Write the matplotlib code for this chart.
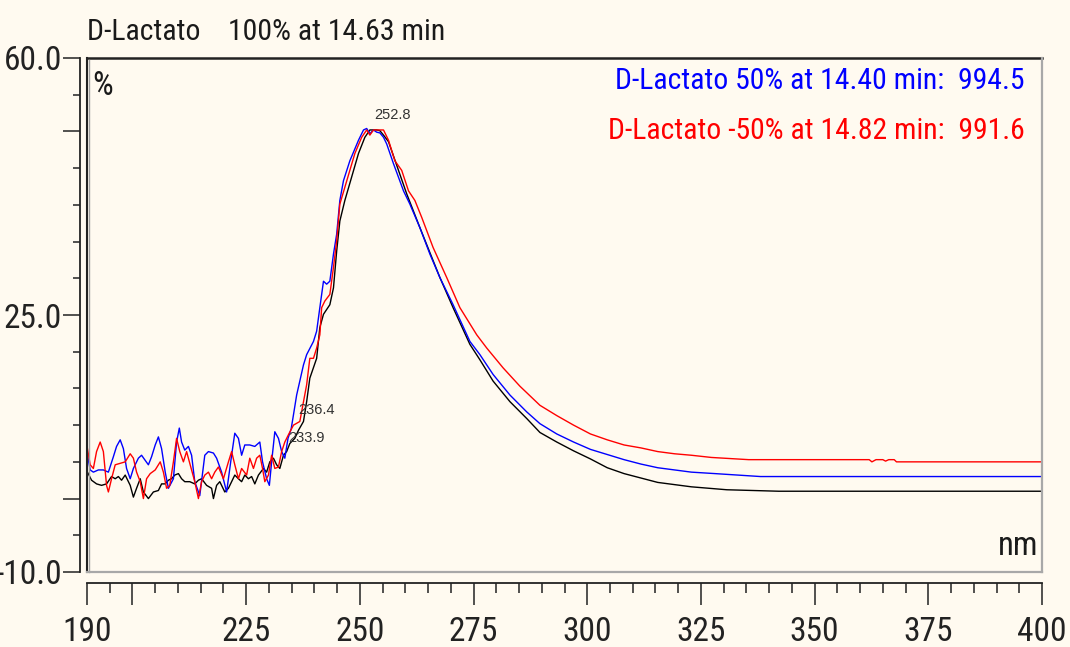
import matplotlib
matplotlib.use("Agg")
import matplotlib.pyplot as plt
from matplotlib import font_manager
from matplotlib.font_manager import FontProperties
from matplotlib.textpath import TextPath
from matplotlib.ticker import MultipleLocator, FixedLocator, FixedFormatter

############################ DATOS ############################################

# D-Lactato 100% (negro)
wl_100 = [190.1, 191.0, 192.1, 193.2, 194.3, 195.4, 196.2, 196.9, 197.6, 198.4,
          199.5, 200.2, 200.9, 201.7, 202.4, 203.5, 204.6, 205.7, 206.4, 207.2,
          207.9, 208.6, 209.3, 210.1, 210.8, 211.5, 212.6, 213.7, 214.5, 215.2,
          216.3, 217.4, 217.8, 218.5, 219.2, 220.3, 221.1, 221.8, 222.5, 223.3,
          224.0, 224.7, 225.5, 226.2, 226.9, 227.7, 228.8, 229.5, 230.2, 231.0,
          231.7, 232.4, 233.2, 233.9, 234.6, 235.7, 236.5, 237.6, 238.3, 239.0,
          240.5, 241.2, 242.0, 243.4, 244.2, 244.9, 245.6, 246.7, 248.2, 249.7,
          251.1, 252.2, 253.7, 254.4, 255.2, 256.3, 258.1, 260.3, 263.2, 267.6,
          270.5, 274.2, 276.4, 279.3, 283.0, 286.7, 289.6, 293.3, 297.0, 300.7,
          304.4, 308.1, 311.8, 315.5, 319.2, 322.9, 330.7, 342.1, 400.0]
pct_100 = [3.6, 2.5, 2.0, 1.8, 2.0, 3.0, 2.7, 3.0, 2.5, 3.2,
           1.8, 0.2, 1.4, 2.7, 0.9, 0.0, 0.9, 1.1, 2.0, 2.0,
           2.5, 2.7, 3.2, 3.4, 2.7, 2.3, 2.3, 2.0, 2.5, 2.7,
           1.8, 1.4, 0.0, 1.8, 2.3, 0.9, 1.4, 2.3, 3.2, 2.7,
           2.3, 3.2, 2.7, 3.0, 2.0, 3.2, 4.1, 3.6, 5.0, 5.5,
           4.6, 4.1, 5.9, 6.4, 7.5, 8.2, 9.3, 10.5, 13.2, 16.4,
           19.1, 23.3, 25.1, 26.4, 28.7, 33.7, 37.8, 40.6, 43.8, 47.0,
           49.2, 50.2, 50.2, 50.1, 49.5, 48.6, 45.4, 41.5, 36.9, 30.1,
           26.0, 21.0, 18.9, 16.0, 13.2, 10.9, 9.0, 7.7, 6.5, 5.4,
           4.2, 3.4, 2.8, 2.2, 1.9, 1.6, 1.2, 1.0, 1.0]

# D-Lactato 50% (azul)
wl_50 = [190.1, 190.7, 191.4, 192.5, 193.6, 194.7, 195.8, 196.5, 197.3, 198.0,
         198.7, 199.5, 200.2, 201.3, 202.0, 202.8, 203.5, 204.2, 205.0, 205.7,
         206.4, 207.2, 207.9, 209.0, 209.7, 210.3, 210.8, 211.5, 212.3, 213.0,
         213.7, 214.8, 215.9, 216.7, 217.8, 218.5, 219.6, 220.7, 221.8, 222.5,
         223.3, 224.0, 224.7, 225.8, 226.9, 228.0, 228.6, 229.5, 230.1, 230.6,
         231.3, 232.1, 232.8, 233.5, 234.2, 234.9, 235.4, 236.1, 237.6, 238.3,
         239.8, 240.5, 241.2, 242.0, 242.7, 243.4, 244.2, 244.9, 245.6, 246.4,
         247.8, 249.7, 250.8, 251.5, 252.2, 253.0, 253.7, 254.4, 255.2, 255.9,
         257.4, 259.6, 261.0, 263.2, 265.4, 267.6, 270.5, 274.2, 276.4, 279.3,
         283.0, 286.7, 289.6, 293.3, 297.0, 300.7, 304.4, 308.1, 311.8, 315.5,
         319.2, 322.9, 328.1, 338.1, 400.0]
pct_50 = [5.9, 3.9, 3.6, 3.9, 3.9, 3.6, 5.7, 7.1, 8.0, 6.8,
          4.1, 2.7, 4.1, 5.5, 5.9, 5.2, 4.6, 5.7, 7.3, 8.4,
          6.8, 3.6, 1.4, 2.7, 7.7, 9.6, 7.7, 6.6, 7.1, 5.9,
          2.3, 0.4, 5.9, 6.4, 6.2, 5.5, 3.6, 0.9, 5.9, 8.9,
          8.2, 5.9, 7.3, 7.3, 7.1, 7.7, 5.0, 2.7, 1.8, 5.0,
          9.1, 8.2, 6.4, 5.5, 8.2, 9.5, 11.4, 14.1, 18.2, 19.6,
          21.4, 22.8, 26.0, 29.6, 29.2, 29.6, 33.3, 36.0, 40.6, 43.3,
          46.0, 48.8, 50.2, 50.4, 49.7, 50.2, 49.9, 49.8, 49.2, 48.3,
          45.6, 41.9, 40.1, 36.9, 33.3, 30.1, 26.4, 21.4, 19.6, 16.9,
          14.1, 11.8, 10.2, 8.8, 7.7, 6.7, 6.0, 5.3, 4.7, 4.2,
          3.9, 3.6, 3.4, 3.0, 3.0]

# D-Lactato -50% (rojo)
wl_m50 = [190.1, 190.7, 191.4, 192.1, 192.9, 193.6, 194.3, 194.7, 195.4, 196.2,
          197.3, 198.4, 199.5, 200.2, 200.9, 201.7, 202.4, 203.1, 203.9, 205.0,
          206.1, 206.8, 207.5, 208.2, 209.0, 209.7, 210.4, 211.2, 211.9, 212.6,
          213.7, 214.5, 215.2, 215.9, 216.7, 217.4, 218.1, 218.9, 220.0, 221.1,
          221.8, 222.5, 223.3, 224.0, 225.1, 225.8, 226.6, 227.3, 228.0, 228.6,
          229.1, 229.9, 230.6, 231.3, 232.1, 232.8, 233.5, 234.3, 235.4, 236.8,
          238.3, 239.0, 239.8, 240.5, 241.2, 241.6, 242.3, 243.4, 244.2, 244.9,
          245.6, 246.7, 247.8, 248.9, 250.4, 251.5, 252.2, 253.0, 255.2, 256.3,
          257.7, 259.2, 260.7, 262.1, 263.6, 266.1, 269.1, 272.0, 275.7, 277.9,
          281.5, 285.2, 289.6, 293.3, 297.0, 300.7, 304.4, 308.1, 311.8, 315.5,
          319.2, 322.9, 327.3, 335.5, 362.0, 362.6, 363.5, 365.0, 365.6, 366.3,
          367.5, 368.0, 400.0]
pct_m50 = [6.8, 4.6, 4.1, 6.4, 7.7, 6.4, 1.8, 0.9, 2.7, 4.6,
           4.8, 5.0, 6.1, 5.5, 3.6, 2.3, 0.0, 2.7, 3.4, 3.9,
           5.0, 3.6, 1.4, 1.8, 5.0, 8.2, 6.4, 5.0, 6.4, 4.8,
           2.3, 0.0, 2.3, 3.2, 3.6, 2.7, 3.6, 4.3, 2.7, 5.0,
           6.4, 4.6, 2.7, 4.1, 3.2, 5.5, 4.1, 5.5, 5.9, 4.1,
           2.3, 3.2, 5.9, 4.1, 4.3, 6.4, 7.7, 8.7, 10.0, 10.5,
           15.5, 19.1, 19.1, 20.5, 22.3, 26.0, 26.9, 27.8, 31.5, 35.1,
           40.1, 42.4, 44.7, 47.0, 49.2, 50.2, 49.5, 50.2, 50.2, 48.8,
           46.0, 44.7, 41.9, 40.6, 38.3, 34.2, 30.1, 26.0, 22.3, 20.5,
           17.8, 15.3, 12.7, 11.3, 10.0, 8.8, 8.0, 7.3, 6.9, 6.4,
           6.1, 5.9, 5.6, 5.3, 5.3, 5.0, 5.3, 5.3, 5.1, 5.3,
           5.3, 5.0, 5.0]

# marcas de pico
picos = [252.8, 236.4, 233.9]
picos_y = [52.2, 12.1, 8.2]

xticks = [190, 200, 225, 250, 275, 300, 325, 350, 375, 400]
xtick_labels = ['190', '', '225', '250', '275', '300', '325', '350', '375', '400']
yticks = [-10, 0, 25, 50, 60]
ytick_labels = ['-10.0', '', '25.0', '', '60.0']

titulo = 'D-Lactato    100% at 14.63 min'
leyenda_azul = 'D-Lactato 50% at 14.40 min:  994.5'
leyenda_roja = 'D-Lactato -50% at 14.82 min:  991.6'

############################ FUENTE ###########################################

# se busca la fuente mas estrecha de las instaladas
familias_ok = {'Liberation Sans Narrow', 'Liberation Sans', 'Roboto', 'Roboto Condensed',
               'Open Sans', 'Open Sans Condensed', 'Lato', 'Inter', 'Noto Sans',
               'Noto Sans Display', 'DejaVu Sans'}
muestra = '0123456789 D-Lactato min'

def ancho(fp, s=10):
    return TextPath((0, 0), muestra, size=s, prop=fp).get_extents().width

mejor = FontProperties(family='DejaVu Sans')
mejor_ancho = ancho(mejor)
for f in font_manager.fontManager.ttflist:
    if f.name not in familias_ok or f.style != 'normal':
        continue
    if f.weight not in (400, 'normal', 'regular', 'book'):
        continue
    try:
        fp = FontProperties(fname=f.fname)
        w = ancho(fp)
    except Exception:
        continue
    if w < mejor_ancho:
        mejor, mejor_ancho = fp, w

def tam_para(texto, px):
    # tamaño en puntos para que el texto ocupe px pixeles de ancho
    w = TextPath((0, 0), texto, size=10, prop=mejor).get_extents().width
    return min(24, px / (w / 10 * 100 / 72))

t_leyenda = tam_para(leyenda_azul, 405)
t_titulo = tam_para(titulo, 354)
t_ticks = min(24, t_leyenda * 1.15)

def fuente(s):
    fp = mejor.copy()
    fp.set_size(s)
    return fp

############################ FIGURA ###########################################

fondo = '#fffaf0'
W, H = 1070, 647
fig = plt.figure(figsize=(W / 100, H / 100), dpi=100, facecolor=fondo)
ax = fig.add_axes([87 / W, (H - 572) / H, (1042 - 87) / W, (572 - 58) / H])
ax.set_facecolor(fondo)

ax.plot(wl_100, pct_100, color='black', lw=1.0)
ax.plot(wl_50, pct_50, color='#0000ff', lw=1.0)
ax.plot(wl_m50, pct_m50, color='#ff0000', lw=1.0)

ax.set_xlim(190, 400)
ax.set_ylim(-10, 60)

# ejes separados del marco
ax.spines['top'].set_visible(False)
ax.spines['right'].set_visible(False)
ax.spines['left'].set_position(('outward', 5))
ax.spines['bottom'].set_position(('outward', 8))
for s in ['left', 'bottom']:
    ax.spines[s].set_linewidth(1.3)
    ax.spines[s].set_color('#222222')

# marco
ax.plot([0, 1], [1, 1], transform=ax.transAxes, color='#222222', lw=1.8, clip_on=False)
ax.plot([0, 0], [0, 1], transform=ax.transAxes, color='#222222', lw=1.5, clip_on=False)
ax.plot([0.002, 0.002], [0, 0.997], transform=ax.transAxes, color='#a0a0a0', lw=1.0, clip_on=False)
ax.plot([0, 1], [0, 0], transform=ax.transAxes, color='#a8a8a8', lw=1.6, clip_on=False)
ax.plot([1, 1], [0, 1], transform=ax.transAxes, color='#a8a8a8', lw=1.6, clip_on=False)

ax.xaxis.set_major_locator(FixedLocator(xticks))
ax.xaxis.set_major_formatter(FixedFormatter(xtick_labels))
ax.xaxis.set_minor_locator(MultipleLocator(5))
ax.yaxis.set_major_locator(FixedLocator(yticks))
ax.yaxis.set_major_formatter(FixedFormatter(ytick_labels))
ax.yaxis.set_minor_locator(MultipleLocator(5))

ax.tick_params(axis='x', which='major', direction='out', length=16, width=1.1, pad=8,
               colors='#222222')
ax.tick_params(axis='x', which='minor', direction='out', length=7, width=1.1, colors='#222222')
ax.tick_params(axis='y', which='major', direction='out', length=12, width=1.1, pad=1,
               colors='#222222')
ax.tick_params(axis='y', which='minor', direction='out', length=5, width=1.1, colors='#222222')
for lab in ax.get_xticklabels() + ax.get_yticklabels():
    lab.set_fontproperties(fuente(t_ticks))

# textos
fig.text(87 / W, 1 - 32 / H, titulo, fontproperties=fuente(t_titulo), color='#1a1a1a',
         ha='left', va='center')
ax.text(0.006, 0.945, '%', transform=ax.transAxes, fontproperties=fuente(t_leyenda * 1.1),
        color='#1a1a1a', ha='left', va='center')
ax.text(0.996, 0.05, 'nm', transform=ax.transAxes, fontproperties=fuente(t_leyenda * 1.1),
        color='#1a1a1a', ha='right', va='center')
ax.text(0.982, 0.955, leyenda_azul, transform=ax.transAxes, fontproperties=fuente(t_leyenda),
        color='#0000ff', ha='right', va='center')
ax.text(0.982, 0.858, leyenda_roja, transform=ax.transAxes, fontproperties=fuente(t_leyenda),
        color='#ff0000', ha='right', va='center')

ax.text(picos[0] + 4.3, picos_y[0], '%.1f' % picos[0], fontsize=10.5, color='#333333',
        family='Liberation Sans', ha='center', va='center')
ax.text(picos[1], picos_y[1], '%.1f' % picos[1], fontsize=10.5, color='#333333',
        family='Liberation Sans', ha='left', va='center')
ax.text(picos[2] + 0.3, picos_y[2], '%.1f' % picos[2], fontsize=10.5, color='#333333',
        family='Liberation Sans', ha='left', va='center')

fig.savefig('out.png', dpi=100, facecolor=fondo)
